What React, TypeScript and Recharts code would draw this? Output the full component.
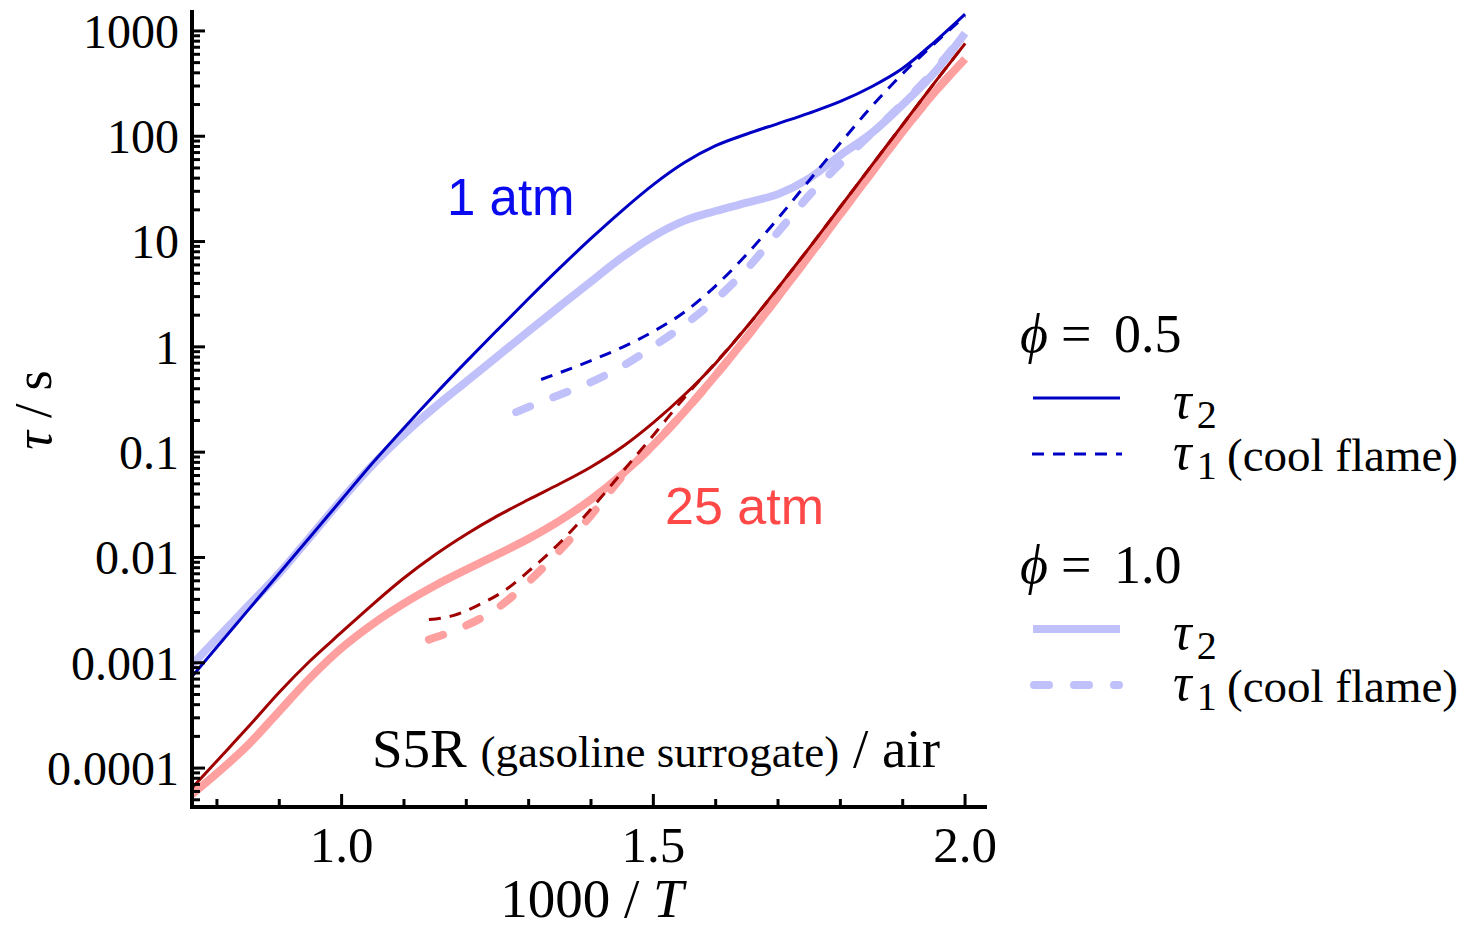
import React from 'react';
import { LineChart, Line, XAxis, YAxis } from 'recharts';

// ---------- data (1000/T vs tau in seconds) ----------
const X_FULL = [0.76, 0.8, 0.85, 0.9, 0.95, 1.0, 1.05, 1.1, 1.15, 1.2, 1.25, 1.3, 1.35, 1.4, 1.45, 1.5, 1.55, 1.6, 1.65, 1.7, 1.75, 1.8, 1.85, 1.9, 1.95, 2.0];

// 1 atm, phi = 0.5, tau2
const P1_PHI05_TAU2 = [7.41e-4, 1.41e-3, 3.16e-3, 7.08e-3, 1.58e-2, 3.55e-2, 7.94e-2, 0.17, 0.355, 0.724, 1.45, 2.88, 5.62, 10.7, 19.7, 34.7, 56.2, 81.3, 105, 132, 166, 214, 295, 442, 776, 1445];
// 1 atm, phi = 1.0, tau2
const P1_PHI10_TAU2 = [9.55e-4, 1.7e-3, 3.47e-3, 7.08e-3, 1.58e-2, 3.55e-2, 7.59e-2, 0.148, 0.269, 0.468, 0.813, 1.41, 2.43, 4.17, 7.08, 11.2, 15.8, 19.5, 23.4, 28.2, 39.8, 66.1, 107, 200, 398, 955];
// 25 atm, phi = 0.5, tau2
const P25_PHI05_TAU2 = [6.46e-5, 1.17e-4, 2.45e-4, 5.25e-4, 1.05e-3, 1.95e-3, 3.59e-3, 6.38e-3, 1.06e-2, 1.66e-2, 2.48e-2, 3.55e-2, 5.01e-2, 7.24e-2, 0.112, 0.191, 0.351, 0.7, 1.55, 3.63, 8.71, 21.4, 52.5, 129, 316, 759];
// 25 atm, phi = 1.0, tau2
const P25_PHI10_TAU2 = [5.62e-5, 8.91e-5, 1.66e-4, 3.47e-4, 7.24e-4, 1.38e-3, 2.34e-3, 3.67e-3, 5.43e-3, 7.67e-3, 1.07e-2, 1.51e-2, 2.24e-2, 3.55e-2, 6.17e-2, 0.117, 0.243, 0.537, 1.24, 2.99, 7.33, 18.2, 45.2, 111, 257, 543];

// cool flame (tau1)
const X_P1_PHI05_TAU1 = [1.32, 1.35, 1.4, 1.45, 1.5, 1.55, 1.6, 1.65, 1.7, 1.75, 1.8, 1.85, 1.9, 1.95, 2.0];
const P1_PHI05_TAU1 = [0.49, 0.569, 0.741, 0.989, 1.4, 2.14, 3.8, 7.59, 16.6, 38.0, 86.1, 191, 394, 750, 1380];

const X_P1_PHI10_TAU1 = [1.28, 1.3, 1.35, 1.4, 1.45, 1.5, 1.55, 1.6, 1.65, 1.7, 1.75, 1.8, 1.85, 1.9, 1.95, 2.0];
const P1_PHI10_TAU1 = [0.24, 0.269, 0.351, 0.462, 0.653, 1.01, 1.62, 2.82, 5.5, 12.3, 27.5, 55.0, 107, 204, 417, 955];

const X_P25_PHI05_TAU1 = [1.14, 1.18, 1.22, 1.26, 1.3, 1.35, 1.4, 1.45, 1.5, 1.55, 1.6, 1.65, 1.7, 1.75, 1.8, 1.85, 1.9, 1.95, 2.0];
const P25_PHI05_TAU1 = [2.57e-3, 2.82e-3, 3.55e-3, 4.79e-3, 7.41e-3, 1.38e-2, 2.88e-2, 6.46e-2, 0.145, 0.331, 0.708, 1.55, 3.63, 8.71, 21.4, 52.5, 129, 316, 759];

const X_P25_PHI10_TAU1 = [1.14, 1.17, 1.2, 1.25, 1.3, 1.35, 1.4, 1.45, 1.5, 1.55, 1.6, 1.65, 1.7, 1.75, 1.8, 1.85, 1.9, 1.95, 2.0];
const P25_PHI10_TAU1 = [1.66e-3, 1.91e-3, 2.26e-3, 3.31e-3, 5.89e-3, 1.17e-2, 2.51e-2, 5.89e-2, 0.117, 0.243, 0.537, 1.24, 2.99, 7.33, 18.2, 45.2, 111, 257, 543];

// ---------- axes ----------
const X_DOMAIN = [0.76, 2.032];
const X_TICKS = [0.8, 0.9, 1.0, 1.1, 1.2, 1.3, 1.4, 1.5, 1.6, 1.7, 1.8, 1.9, 2.0];
const X_MAJOR = [1.0, 1.5, 2.0];
const X_LABELS = ['1.0', '1.5', '2.0'];

const Y_DOMAIN = [4.27e-5, 1513];
const Y_MAJOR = [0.0001, 0.001, 0.01, 0.1, 1, 10, 100, 1000];
const Y_LABELS = ['0.0001', '0.001', '0.01', '0.1', '1', '10', '100', '1000'];
const Y_DECADES = [0.00001, 0.0001, 0.001, 0.01, 0.1, 1, 10, 100, 1000];
const Y_MINOR_MULT = [2, 3, 4, 5, 6, 7, 8, 9];
const Y_TICKS = [
  ...Y_MAJOR,
  ...Y_DECADES.flatMap((d) => Y_MINOR_MULT.map((m) => m * d)),
]
  .filter((v) => v >= Y_DOMAIN[0] && v <= Y_DOMAIN[1])
  .sort((a, b) => a - b);

const zip = (xs: number[], ys: number[]) => xs.map((x, i) => ({ x, y: ys[i] }));

const D_A = zip(X_FULL, P1_PHI05_TAU2);
const D_B = zip(X_FULL, P1_PHI10_TAU2);
const D_E = zip(X_FULL, P25_PHI05_TAU2);
const D_F = zip(X_FULL, P25_PHI10_TAU2);
const D_C = zip(X_P1_PHI05_TAU1, P1_PHI05_TAU1);
const D_D = zip(X_P1_PHI10_TAU1, P1_PHI10_TAU1);
const D_G = zip(X_P25_PHI05_TAU1, P25_PHI05_TAU1);
const D_H = zip(X_P25_PHI10_TAU1, P25_PHI10_TAU1);

// ---------- styles ----------
const SERIF = '"Liberation Serif", "Times New Roman", serif';
const SANS = '"Liberation Sans", Arial, sans-serif';
const DARK_BLUE = '#0000c4';
const LIGHT_BLUE = '#c0c0fa';
const DARK_RED = '#a00000';
const LIGHT_RED = '#ffa0a0';
const DASH_THIN = '12 9';
const DASH_THICK = '15 25';

const majorXIndex = (v: number) => X_MAJOR.findIndex((m) => Math.abs(m - v) < 1e-6);
const majorYIndex = (v: number) => Y_MAJOR.findIndex((m) => Math.abs(v / m - 1) < 1e-6);

function BottomTick(props: any) {
  const { x, y, payload } = props;
  const i = majorXIndex(payload.value);
  return (
    <g>
      <line x1={x} x2={x} y1={y} y2={y - (i >= 0 ? 13 : 8)} stroke="#000" strokeWidth={3} />
      {i >= 0 && (
        <text x={x} y={y + 55} textAnchor="middle" fontFamily={SERIF} fontSize={51} fill="#000">
          {X_LABELS[i]}
        </text>
      )}
    </g>
  );
}

function TopTick(props: any) {
  const { x, y, payload } = props;
  const i = majorXIndex(payload.value);
  return <line x1={x} x2={x} y1={y} y2={y + (i >= 0 ? 13 : 8)} stroke="#000" strokeWidth={3} />;
}

function LeftTick(props: any) {
  const { x, y, payload } = props;
  const i = majorYIndex(payload.value);
  return (
    <g>
      <line x1={x} x2={x + (i >= 0 ? 13 : 8)} y1={y} y2={y} stroke="#000" strokeWidth={3} />
      {i >= 0 && (
        <text x={x - 13} y={y} dy="0.35em" textAnchor="end" fontFamily={SERIF} fontSize={48} fill="#000">
          {Y_LABELS[i]}
        </text>
      )}
    </g>
  );
}

function RightTick(props: any) {
  const { x, y, payload } = props;
  const i = majorYIndex(payload.value);
  return <line x1={x} x2={x - (i >= 0 ? 13 : 8)} y1={y} y2={y} stroke="#000" strokeWidth={3} />;
}

const AXIS_LINE = { stroke: '#000', strokeWidth: 4, strokeLinecap: 'square' as const };

function TauLabel({ y, sub, note }: { y: number; sub: string; note?: string }) {
  return (
    <text x={1173} y={y} fontFamily={SERIF} fill="#000">
      <tspan fontSize={52} fontStyle="italic">τ</tspan>
      <tspan dx={5} dy={10} fontSize={40}>{sub}</tspan>
      {note && (
        <tspan x={1227} dy={-8} fontSize={47}>{note}</tspan>
      )}
    </text>
  );
}

function Overlay() {
  // page coordinates minus body margin (8px)
  const o = 8;
  return (
    <svg
      width={1455}
      height={913}
      style={{ position: 'absolute', left: 0, top: 0, pointerEvents: 'none', overflow: 'visible' }}
    >
      <g transform={`translate(${-o},${-o})`}>
        {/* annotations */}
        <text x={447} y={215} fontFamily={SANS} fontSize={51} fill="#0a0aee">1 atm</text>
        <text x={665} y={524} fontFamily={SANS} fontSize={52} fill="#ff4848">25 atm</text>
        <text x={372} y={767} fontFamily={SERIF} fill="#000">
          <tspan fontSize={55}>S5R </tspan>
          <tspan fontSize={45}>(gasoline surrogate)</tspan>
          <tspan fontSize={55}> / air</tspan>
        </text>

        {/* axis titles */}
        <text
          transform="translate(51,410) rotate(-90)"
          textAnchor="middle"
          fontFamily={SERIF}
          fontSize={52}
          fill="#000"
        >
          <tspan fontStyle="italic">τ</tspan>
          <tspan> / s</tspan>
        </text>
        <text x={592} y={917} textAnchor="middle" fontFamily={SERIF} fontSize={55} fill="#000">
          <tspan>1000 / </tspan>
          <tspan fontStyle="italic">T</tspan>
        </text>

        {/* legend */}
        <text y={352} fontFamily={SERIF} fontSize={54} fill="#000">
          <tspan x={1020} fontStyle="italic">ϕ</tspan>
          <tspan x={1061}>=</tspan>
          <tspan x={1114}>0.5</tspan>
        </text>
        <line x1={1033} x2={1120} y1={398} y2={398} stroke={DARK_BLUE} strokeWidth={3} />
        <TauLabel y={418} sub="2" />
        <line x1={1032} x2={1122} y1={454} y2={454} stroke={DARK_BLUE} strokeWidth={3} strokeDasharray={DASH_THIN} />
        <TauLabel y={469} sub="1" note="(cool flame)" />

        <text y={583} fontFamily={SERIF} fontSize={54} fill="#000">
          <tspan x={1020} fontStyle="italic">ϕ</tspan>
          <tspan x={1061}>=</tspan>
          <tspan x={1114}>1.0</tspan>
        </text>
        <line x1={1033} x2={1120} y1={629} y2={629} stroke={LIGHT_BLUE} strokeWidth={8} />
        <TauLabel y={649} sub="2" />
        <line
          x1={1034}
          x2={1119}
          y1={685}
          y2={685}
          stroke={LIGHT_BLUE}
          strokeWidth={8}
          strokeDasharray={DASH_THICK}
          strokeLinecap="round"
        />
        <TauLabel y={700} sub="1" note="(cool flame)" />
      </g>
    </svg>
  );
}

export default function App() {
  const common = {
    xAxisId: 'b',
    yAxisId: 'l',
    dataKey: 'y',
    type: 'monotone' as const,
    dot: false,
    activeDot: false,
    isAnimationActive: false,
  };
  return (
    <div style={{ position: 'relative', width: 1455, height: 913 }}>
      <style>{'.recharts-surface{overflow:visible}'}</style>
      <LineChart width={1000} height={910} margin={{ top: 4, right: 23, bottom: 0, left: 0 }}>
        <XAxis
          xAxisId="b"
          orientation="bottom"
          dataKey="x"
          type="number"
          domain={X_DOMAIN}
          allowDataOverflow
          ticks={X_TICKS}
          interval={0}
          tick={BottomTick}
          tickLine={false}
          tickSize={0}
          tickMargin={0}
          height={111}
          axisLine={AXIS_LINE}
        />
        <XAxis
          xAxisId="t"
          orientation="top"
          dataKey="x"
          type="number"
          domain={X_DOMAIN}
          allowDataOverflow
          ticks={X_TICKS}
          interval={0}
          tick={TopTick}
          tickLine={false}
          tickSize={0}
          tickMargin={0}
          height={0}
          axisLine={AXIS_LINE}
        />
        <YAxis
          yAxisId="l"
          orientation="left"
          type="number"
          scale="log"
          domain={Y_DOMAIN}
          allowDataOverflow
          ticks={Y_TICKS}
          interval={0}
          tick={LeftTick}
          tickLine={false}
          tickSize={0}
          tickMargin={0}
          width={184}
          axisLine={AXIS_LINE}
        />
        <YAxis
          yAxisId="r"
          orientation="right"
          type="number"
          scale="log"
          domain={Y_DOMAIN}
          allowDataOverflow
          ticks={Y_TICKS}
          interval={0}
          tick={RightTick}
          tickLine={false}
          tickSize={0}
          tickMargin={0}
          width={0}
          axisLine={AXIS_LINE}
        />

        {/* light (phi = 1.0) series underneath */}
        <Line {...common} data={D_B} stroke={LIGHT_BLUE} strokeWidth={8} />
        <Line {...common} data={D_D} stroke={LIGHT_BLUE} strokeWidth={8} strokeDasharray={DASH_THICK} strokeLinecap="round" />
        <Line {...common} data={D_F} stroke={LIGHT_RED} strokeWidth={8} />
        <Line {...common} data={D_H} stroke={LIGHT_RED} strokeWidth={8} strokeDasharray={DASH_THICK} strokeLinecap="round" />
        {/* dark (phi = 0.5) series on top */}
        <Line {...common} data={D_A} stroke={DARK_BLUE} strokeWidth={3} />
        <Line {...common} data={D_C} stroke={DARK_BLUE} strokeWidth={3} strokeDasharray={DASH_THIN} />
        <Line {...common} data={D_E} stroke={DARK_RED} strokeWidth={3} />
        <Line {...common} data={D_G} stroke={DARK_RED} strokeWidth={3} strokeDasharray={DASH_THIN} />
      </LineChart>
      <Overlay />
    </div>
  );
}
